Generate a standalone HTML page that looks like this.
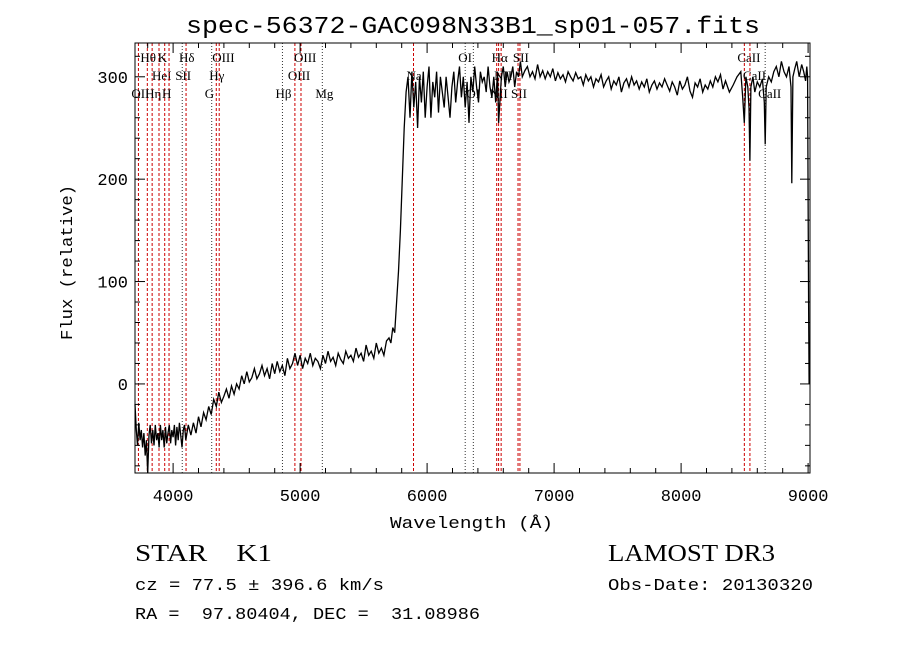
<!DOCTYPE html>
<html><head><meta charset="utf-8"><style>
body{margin:0;background:#fff}
svg text{font-family:"Liberation Mono",monospace;fill:#000;white-space:pre}
.s{font-family:"Liberation Serif",serif;font-size:13px}
.b{font-family:"Liberation Serif",serif}
</style></head><body>
<svg width="900" height="649" id="c" xml:space="preserve">
<text x="186" y="33" font-size="24" textLength="574" lengthAdjust="spacingAndGlyphs">spec-56372-GAC098N33B1_sp01-057.fits</text>
<text x="390" y="528" font-size="17" textLength="163" lengthAdjust="spacingAndGlyphs">Wavelength (Å)</text>
<text transform="translate(72,340) rotate(-90)" font-size="17" textLength="155" lengthAdjust="spacingAndGlyphs">Flux (relative)</text>
<text x="135" y="561" class="b" font-size="24" textLength="137" lengthAdjust="spacingAndGlyphs">STAR    K1</text>
<text x="608" y="561" class="b" font-size="24" textLength="167" lengthAdjust="spacingAndGlyphs">LAMOST DR3</text>
<text x="135" y="590" font-size="17" textLength="249" lengthAdjust="spacingAndGlyphs">cz = 77.5 ± 396.6 km/s</text>
<text x="608" y="590" font-size="17" textLength="205" lengthAdjust="spacingAndGlyphs">Obs-Date: 20130320</text>
<text x="135" y="619" font-size="17" textLength="345" lengthAdjust="spacingAndGlyphs">RA =  97.80404, DEC =  31.08986</text>
<g id="g"></g>
</svg>
<script>
const xTicks=[4000,5000,6000,7000,8000,9000];
const yTicks=[0,100,200,300];
const specWave=[
3700,3710,3720,3730,3740,3750,3760,3770,3780,3790,
3800,3810,3820,3830,3840,3850,3860,3870,3880,3890,
3900,3910,3920,3930,3940,3950,3960,3970,3980,3990,
4000,4010,4020,4030,4040,4050,4060,4070,4080,4090,
4100,4120,4140,4160,4180,4200,4220,4240,4260,4280,
4300,4320,4340,4360,4380,4400,4420,4440,4460,4480,
4500,4520,4540,4560,4580,4600,4620,4640,4660,4680,
4700,4720,4740,4760,4780,4800,4820,4840,4860,4880,
4900,4920,4940,4960,4980,5000,5020,5040,5060,5080,
5100,5120,5140,5160,5180,5200,5220,5240,5260,5280,
5300,5320,5340,5360,5380,5400,5420,5440,5460,5480,
5500,5520,5540,5560,5580,5600,5620,5640,5660,5680,
5700,5715,5730,5745,5760,5775,5790,5805,5820,5835,
5850,5865,5880,5895,5910,5925,5940,5955,5970,5985,
6000,6015,6030,6045,6060,6075,6090,6105,6120,6135,
6150,6165,6180,6195,6210,6225,6240,6255,6270,6285,
6300,6315,6330,6345,6360,6375,6390,6405,6420,6435,
6450,6465,6480,6495,6510,6525,6540,6555,6563,6585,
6600,6615,6630,6645,6660,6675,6690,6705,6720,6735,
6750,6770,6790,6810,6830,6850,6870,6890,6910,6930,
6950,6970,6990,7010,7030,7050,7070,7090,7110,7130,
7150,7170,7190,7210,7230,7250,7270,7290,7310,7330,
7350,7370,7390,7410,7430,7450,7470,7490,7510,7530,
7550,7570,7590,7610,7630,7650,7670,7690,7710,7730,
7750,7770,7790,7810,7830,7850,7870,7890,7910,7930,
7950,7970,7990,8010,8030,8050,8070,8090,8110,8130,
8150,8170,8190,8210,8230,8250,8270,8290,8310,8330,
8350,8380,8410,8440,8470,8485,8498,8510,8525,8535,
8542,8550,8565,8580,8600,8620,8640,8655,8662,8670,
8690,8710,8730,8750,8770,8790,8810,8830,8850,8865,
8872,8880,8895,8910,8930,8950,8965,8980,8990,8996,
9000,9004,9008];
const specFlux=[
-20,-45,-60,-38,-55,-45,-62,-48,-70,-55,
-87,-50,-40,-58,-45,-60,-40,-55,-48,-62,
-40,-55,-45,-62,-42,-58,-48,-40,-58,-45,
-52,-40,-60,-42,-55,-38,-50,-62,-45,-40,
-55,-40,-50,-38,-48,-32,-42,-28,-35,-22,
-30,-15,-22,-8,-18,-12,-5,-14,-2,-10,
0,-5,8,0,12,2,6,15,5,10,
18,8,15,5,20,10,22,12,18,8,
25,15,20,30,18,28,15,25,20,30,
18,25,22,15,28,20,32,22,26,18,
30,24,20,32,25,28,22,35,26,30,
22,38,28,32,25,40,30,35,28,42,
45,40,55,50,80,110,150,200,250,285,
300,260,305,270,295,250,300,275,305,260,
290,310,260,295,280,305,265,300,285,270,
300,280,260,290,305,275,295,310,280,300,
270,295,255,300,285,310,290,275,305,295,
300,285,310,290,280,300,275,305,255,300,
310,290,305,295,300,310,290,305,300,315,
300,306,310,300,305,298,312,300,306,298,
305,300,308,296,304,298,302,295,305,300,
296,304,298,300,292,302,296,300,290,298,
295,302,290,296,300,288,296,292,300,285,
294,298,290,300,292,296,288,295,290,298,
285,292,296,288,294,290,298,292,286,295,
290,282,296,288,292,300,286,280,294,290,
298,285,292,288,296,290,300,295,302,288,
296,285,292,300,305,280,255,300,290,270,
218,290,300,285,295,290,298,275,234,290,
300,295,305,310,300,315,305,300,310,290,
196,300,308,315,300,312,305,296,310,300,
180,80,0];
const lineWave=[3727,3797,3835,3889,3934,3968,4072,4102,4304,4340,4363,4861,4959,5007,5175,5893,6300,6364,6548,6563,6583,6716,6731,8498,8542,8662];
const lineName=["OII","Hθ","Hη","HeI","K","H","SII","Hδ","G","Hγ","OIII","Hβ","OIII","OIII","Mg","Na","OI","OI","NII","Hα","NII","SII","SII","CaII","CaII","CaII"];
const lineRow=[2,0,2,1,0,2,1,0,2,1,0,2,1,0,2,1,0,2,2,0,1,2,0,0,1,2];
const lineRed=[1,1,1,1,1,1,0,1,0,1,1,0,1,1,0,1,0,0,1,1,1,1,1,1,1,0];
const L=135,R=810,T=43,B=473,X0=3700,X1=9015,Y0=-87,Y1=333;
const sx=w=>L+(w-X0)/(X1-X0)*(R-L);
const sy=f=>B-(f-Y0)/(Y1-Y0)*(B-T);
const g=document.getElementById('g');const NS='http://www.w3.org/2000/svg';
function mk(t,a){const e=document.createElementNS(NS,t);for(const k in a)e.setAttribute(k,a[k]);g.appendChild(e);return e;}
lineWave.forEach((w,i)=>{
 const e=mk('line',{x1:sx(w),x2:sx(w),y1:T,y2:B,stroke:lineRed[i]?'#c00':'#333','stroke-width':1,'stroke-dasharray':lineRed[i]?'3,2':'1,2'});
 
 
 const t=mk('text',{x:sx(w)-7,y:62+lineRow[i]*18,class:'s'});t.textContent=lineName[i];
 
 
});
const n=Math.min(specWave.length,specFlux.length);
const p=mk('path',{d:specWave.slice(0,n).map((w,i)=>(i?'L':'M')+sx(w).toFixed(1)+','+Math.min(B,sy(specFlux[i])).toFixed(1)).join(''),fill:'none',stroke:'#000','stroke-width':1.3});


const f=mk('rect',{x:L,y:T,width:R-L,height:B-T,fill:'none',stroke:'#000','stroke-width':1});


for(let w=3800;w<=9000;w+=200){const big=w%1000==0;
 [[B,B-(big?10:5)],[T,T+(big?10:5)]].forEach(([a,b])=>mk('line',{x1:sx(w),x2:sx(w),y1:a,y2:b,stroke:'#000'}));}
xTicks.forEach(w=>{const t=mk('text',{x:sx(w),y:501,'text-anchor':'middle','font-size':17});t.textContent=w;
 
 });
for(let v=-80;v<=330;v+=20){const big=v%100==0;
 [[L,L+(big?10:5)],[R,R-(big?10:5)]].forEach(([a,b])=>mk('line',{x1:a,x2:b,y1:sy(v),y2:sy(v),stroke:'#000'}));}
yTicks.forEach(v=>{const t=mk('text',{x:L-7,y:sy(v)+6,'text-anchor':'end','font-size':17});t.textContent=v;
 
 });
</script>
</body></html>
